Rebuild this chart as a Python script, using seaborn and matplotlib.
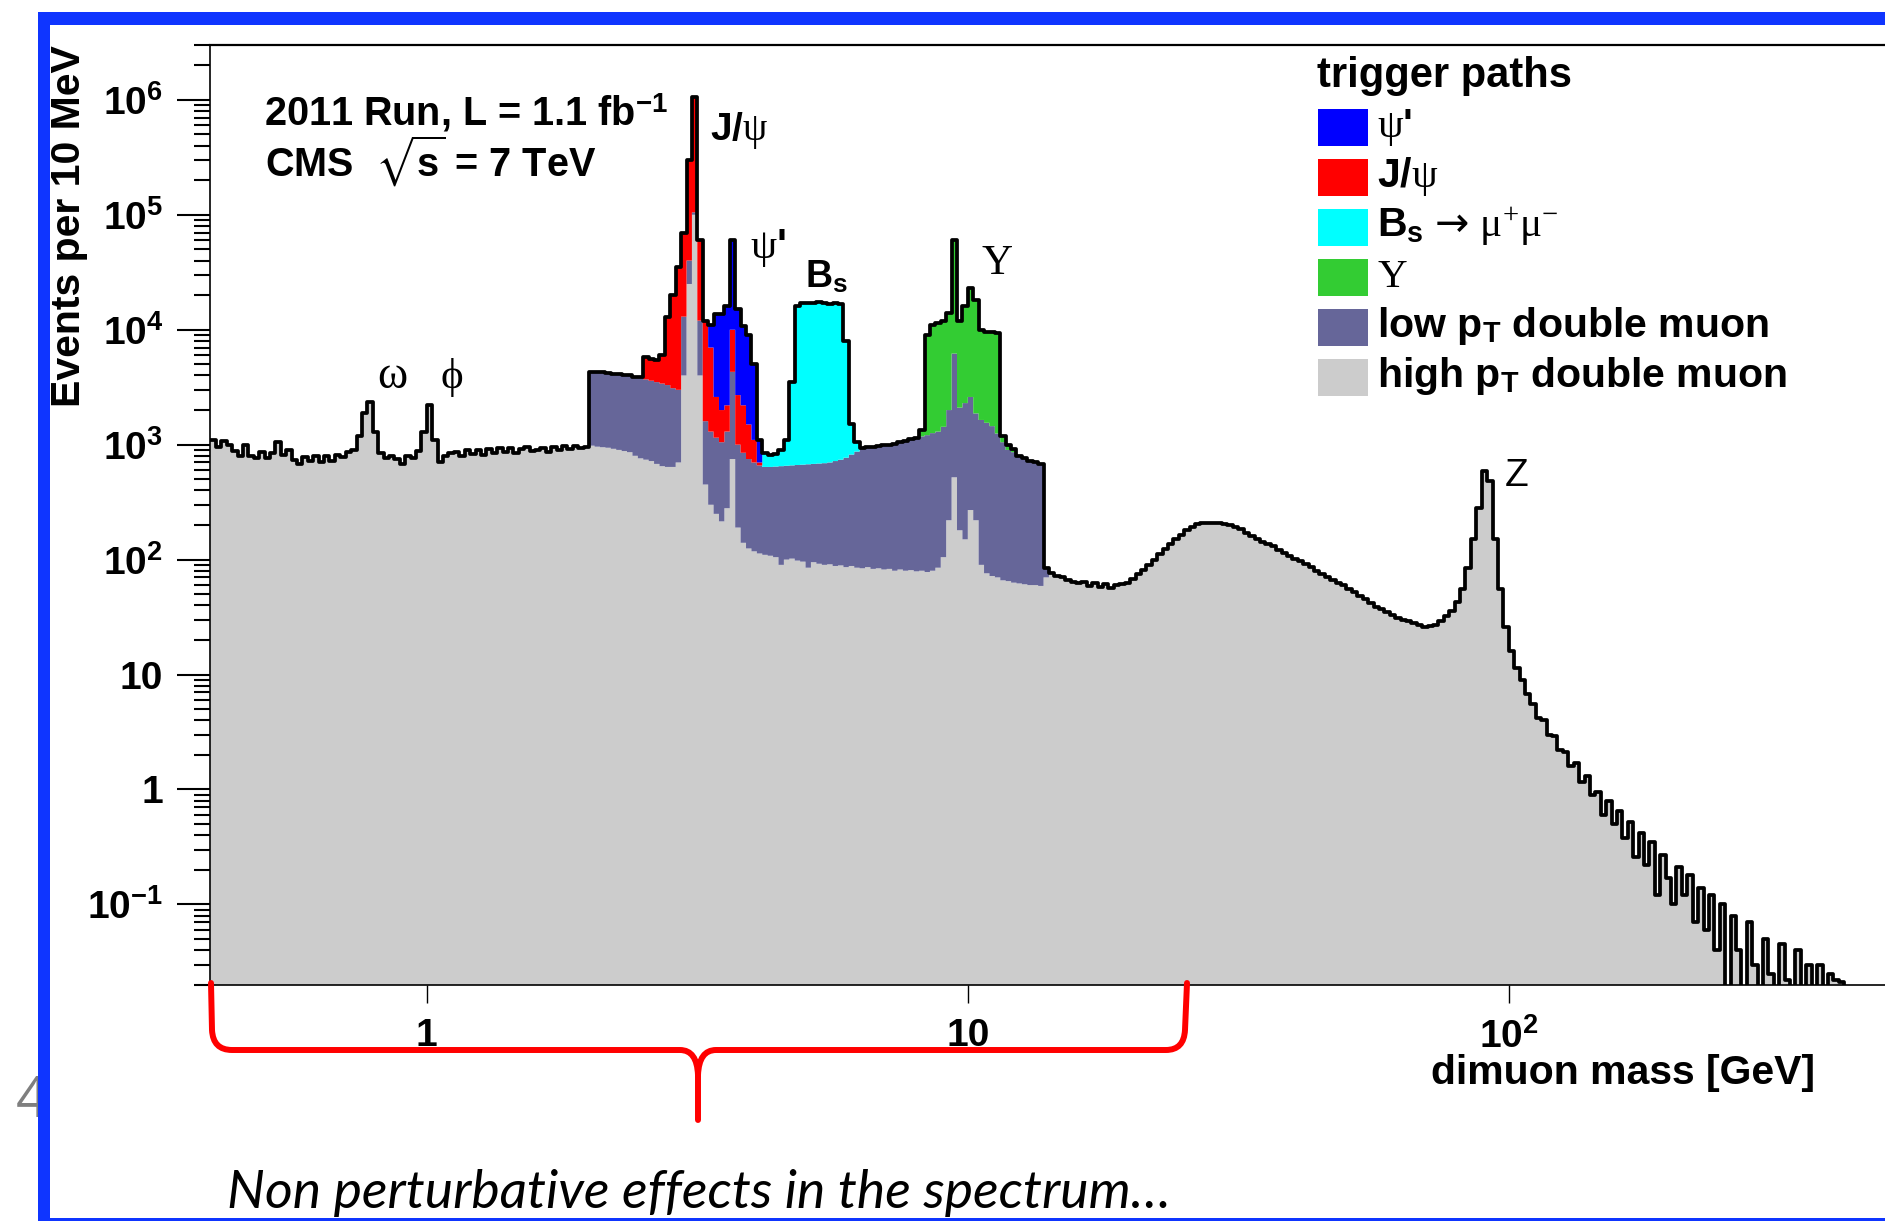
import numpy as np
import pandas as pd
import matplotlib
matplotlib.use("Agg")
import matplotlib.pyplot as plt
from matplotlib.patches import Rectangle, PathPatch
from matplotlib.path import Path
from matplotlib.ticker import LogLocator, NullLocator, NullFormatter
import seaborn as sns

# ------------------------------------------------------------------
# Binning: 100 bins per decade of dimuon mass, 10^-0.4 ... 10^2.7 GeV
# ------------------------------------------------------------------
LOG_EDGES = np.linspace(-0.40, 2.70, 311)

# Events per bin, high-pT double-muon path (whole spectrum), rows of 10 bins
high_pt = [
    1100, 950, 1080, 990, 880, 790, 1000, 800, 770, 860,        # 0.40-0.50 GeV
    760, 850, 1050, 820, 900, 740, 680, 780, 720, 800,          # 0.50-0.63
    700, 790, 720, 810, 780, 870, 900, 1200, 1900, 2350,        # 0.63-0.79  (omega)
    1300, 850, 770, 790, 750, 680, 800, 760, 880, 1300,         # 0.79-1.00
    2200, 1100, 700, 800, 850, 870, 800, 890, 830, 900,         # 1.00-1.26  (phi)
    820, 910, 850, 930, 860, 940, 850, 910, 960, 880,           # 1.26-1.58
    900, 940, 870, 950, 900, 970, 910, 980, 930, 960,           # 1.58-2.00
    980, 960, 950, 940, 920, 900, 880, 860, 800, 760,           # 2.00-2.51
    740, 720, 680, 650, 640, 640, 700, 4000, 25000, 100000,     # 2.51-3.16  (J/psi)
    4000, 450, 300, 250, 215, 280, 750, 190, 140, 125,          # 3.16-3.98  (psi')
    118, 113, 110, 108, 105, 90, 100, 102, 98, 96,              # 3.98-5.01
    85, 95, 92, 90, 91, 88, 89, 86, 88, 85,                     # 5.01-6.31
    84, 86, 83, 84, 82, 83, 80, 82, 80, 81,                     # 6.31-7.94
    79, 80, 78, 80, 85, 105, 220, 520, 180, 150,                # 7.94-10.0  (Upsilon)
    270, 220, 90, 76, 72, 70, 66, 65, 63, 62,                   # 10.0-12.6
    61, 60, 60, 59, 70, 76, 72, 70, 66, 64,                     # 12.6-15.8
    62, 64, 59, 62, 58, 61, 57, 60, 61, 63,                     # 15.8-20.0
    68, 75, 82, 90, 100, 112, 124, 138, 150, 165,               # 20-25
    180, 193, 202, 208, 210, 210, 208, 205, 200, 192,           # 25-32
    183, 172, 160, 150, 143, 136, 130, 122, 115, 108,           # 32-40
    102, 97, 92, 86, 80, 75, 71, 66, 63, 60,                    # 40-50
    56, 52, 48, 45, 42, 39, 37, 35, 33, 31,                     # 50-63
    30, 29, 28, 27, 26, 26.5, 27, 29, 32, 36,                   # 63-79
    43, 55, 85, 150, 280, 590, 480, 150, 55, 26,                # 79-100  (Z)
    16, 11.5, 9, 6.8, 5.5, 4.2, 4.0, 3.0, 2.9, 2.2,             # 100-126
    2.1, 1.6, 1.7, 1.15, 1.3, 0.9, 0.95, 0.6, 0.8, 0.5,         # 126-158
    0.65, 0.38, 0.52, 0.26, 0.42, 0.22, 0.35, 0.12, 0.27, 0.17, # 158-200
    0.1, 0.21, 0.12, 0.18, 0.07, 0.14, 0.06, 0.12, 0.04, 0.1,   # 200-251
    0, 0.08, 0.04, 0, 0.07, 0.03, 0, 0.05, 0.025, 0,            # 251-316
    0.045, 0.022, 0, 0.04, 0, 0.03, 0, 0.03, 0, 0.025,          # 316-398
    0.022, 0.021, 0, 0, 0, 0, 0, 0, 0, 0,                       # 398-501
]

# Low-pT double-muon path, starting at bin 70 (2.0 GeV)
low_pt_first_bin = 70
low_pt = [
    3320, 3290, 3350, 3260, 3230, 3250, 3170, 3140, 3100, 3090,
    2960, 2880, 2820, 2750, 2660, 2460, 2300, 9000, 15000, 5000,
    8000, 1150, 1000, 900, 835, 1020, 3550, 810, 710, 625,
    582, 547, 530, 532, 540, 560, 555, 558, 567, 574,
    590, 585, 593, 600, 609, 632, 651, 684, 732, 785,
    846, 864, 877, 886, 908, 917, 940, 968, 1000, 1029,
    1071, 1100, 1132, 1180, 1215, 1325, 1780, 5680, 1920, 2150,
    2330, 1650, 1550, 1474, 1378, 1180, 984, 835, 797, 738,
    699, 660, 640, 621, 15,
]

# J/psi path, starting at bin 80 (2.5 GeV)
jpsi_first_bin = 80
jpsi = [
    2100, 2000, 2000, 2600, 9700, 16900, 32000, 57000, 260000, 945000,
    48000, 10400, 5700, 1450, 950, 900, 5700, 1700, 1350, 750,
    400, 40,
]

# psi' path, starting at bin 92 (3.3 GeV)
psi2s_first_bin = 92
psi2s = [4000, 11100, 11700, 13800, 50000, 12300, 8500, 7500, 3900, 400]

# Bs -> mu mu path, starting at bin 102 (4.2 GeV)
bs_first_bin = 102
bs_mumu = [210, 180, 185, 250, 445, 2840, 15300, 16300, 16500, 16300,
           16600, 16300, 16200, 16400, 15900, 7230, 680, 180]

# Upsilon path, starting at bin 131 (8.1 GeV)
upsilon_first_bin = 131
upsilon = [170, 7790, 9740, 10200, 10570, 12000, 53800, 9900, 13700, 20400,
           16130, 8360, 8050, 8150, 8150, 150, 100, 60]

# Stack order, top to bottom, with legend text and colours
paths = ["psi2s", "jpsi", "bs", "upsilon", "low_pt", "high_pt"]
path_colors = ["#0000ff", "#ff0000", "#00ffff", "#33cc33", "#666699", "#cccccc"]
path_labels = [
    r"$\mathrm{\psi}$'",
    r"J/$\mathrm{\psi}$",
    r"B$_{\mathbf{s}}$$\,\mathcal{\rightarrow}\,\mathrm{\mu^{+}\mu^{-}}$",
    r"$\mathrm{\Upsilon}$",
    r"low p$_{\mathbf{T}}$ double muon",
    r"high p$_{\mathbf{T}}$ double muon",
]

# ------------------------------------------------------------------
nbins = len(LOG_EDGES) - 1
assert len(high_pt) == nbins
centers = 10 ** (0.5 * (LOG_EDGES[:-1] + LOG_EDGES[1:]))
bin_list = LOG_EDGES.tolist()


def spread(first_bin, counts):
    out = np.zeros(nbins)
    out[first_bin:first_bin + len(counts)] = counts
    return out


components = {
    "psi2s": spread(psi2s_first_bin, psi2s),
    "jpsi": spread(jpsi_first_bin, jpsi),
    "bs": spread(bs_first_bin, bs_mumu),
    "upsilon": spread(upsilon_first_bin, upsilon),
    "low_pt": spread(low_pt_first_bin, low_pt),
    "high_pt": np.asarray(high_pt, dtype=float),
}
df = pd.concat(
    [pd.DataFrame({"mass": centers, "events": v, "path": k}) for k, v in components.items()],
    ignore_index=True,
)
total = np.sum(list(components.values()), axis=0)

# ------------------------------------------------------------------
sns.set_style("ticks", rc={"axes.edgecolor": "black", "xtick.color": "black",
                           "ytick.color": "black", "text.color": "black",
                           "axes.labelcolor": "black"})
plt.rcParams["font.family"] = ["Liberation Sans", "DejaVu Sans"]
plt.rcParams["mathtext.fontset"] = "custom"
plt.rcParams["mathtext.rm"] = "Liberation Serif"
plt.rcParams["mathtext.it"] = "Liberation Serif:italic"
plt.rcParams["mathtext.bf"] = "Liberation Sans:bold"
plt.rcParams["mathtext.sf"] = "Liberation Sans"
plt.rcParams["mathtext.cal"] = "DejaVu Sans"
plt.rcParams["mathtext.fallback"] = "stix"

W, H = 1885, 1221
AX_L, AX_T, AX_B = 210.4, 45.0, 985.0


def fx(x):
    return x / W


def fy(y):
    return 1 - y / H


def to_axes(x, y):
    return (x - AX_L) / (W - AX_L), (AX_B - y) / (AX_B - AX_T)


fig = plt.figure(figsize=(W / 100, H / 100), dpi=100)
fig.patch.set_facecolor("white")
ax = fig.add_axes([fx(AX_L), fy(AX_B), (W - AX_L) / W, (AX_B - AX_T) / H])

sns.histplot(data=df, x="mass", weights="events", hue="path", hue_order=paths,
             palette=dict(zip(paths, path_colors)), multiple="stack",
             element="step", fill=True, bins=bin_list, log_scale=True,
             alpha=1, linewidth=0, legend=False, ax=ax)
sns.histplot(x=centers, weights=total, bins=bin_list, log_scale=True,
             element="step", fill=False, color="black", linewidth=2.7,
             zorder=5, ax=ax)

ax.set_yscale("log")
ax.set_xlim(0.398, 496)
ax.set_ylim(0.0199, 3.0e6)

ax.set_yticks([0.1, 1, 10, 100, 1e3, 1e4, 1e5, 1e6],
              [r"$\mathbf{10^{-1}}$", "1", "10", r"$\mathbf{10^{2}}$",
               r"$\mathbf{10^{3}}$", r"$\mathbf{10^{4}}$", r"$\mathbf{10^{5}}$",
               r"$\mathbf{10^{6}}$"], fontsize=28, fontweight="bold")
ax.yaxis.set_minor_locator(LogLocator(base=10, subs=np.arange(2, 10), numticks=60))
ax.yaxis.set_minor_formatter(NullFormatter())
ax.set_xticks([1, 10, 100], ["1", "10", r"$\mathbf{10^{2}}$"],
              fontsize=28, fontweight="bold")
ax.xaxis.set_minor_locator(NullLocator())

ax.tick_params(axis="y", which="major", direction="out", length=24, width=1.5,
               pad=10, left=True, right=False)
ax.tick_params(axis="y", which="minor", direction="out", length=11.5, width=1.5,
               left=True, right=False)
ax.tick_params(axis="x", which="major", direction="out", length=13, width=1,
               pad=11, bottom=True, top=False)

ax.spines["right"].set_visible(False)
ax.spines["top"].set_linewidth(1.6)
ax.spines["left"].set_linewidth(1.2)
ax.spines["bottom"].set_linewidth(1.2)
ax.grid(False)

ax.set_xlabel("dimuon mass [GeV]", fontsize=29.5, fontweight="bold")
ax.xaxis.set_label_coords(*to_axes(1815, 1073))
ax.xaxis.label.set_ha("right")
ax.xaxis.label.set_va("center")
ax.set_ylabel("Events per 10 MeV", fontsize=29.5, fontweight="bold")
ax.yaxis.set_label_coords(*to_axes(69, 45))
ax.yaxis.label.set_ha("right")
ax.yaxis.label.set_va("center")

# Run information
fig.text(fx(264), fy(125), r"2011 Run, L = 1.1 fb$^{\mathbf{-1}}$",
         fontsize=28.5, fontweight="bold", va="baseline")
fig.text(fx(265), fy(177), r"CMS  $\sqrt{\mathbf{s}}$ = 7 TeV",
         fontsize=28.5, fontweight="bold", va="baseline")

# Resonance labels
peak_labels = [
    (r"J/$\mathrm{\psi}$", 710, 140, "bold", 28),
    (r"$\mathrm{\psi}$'", 750, 258, "bold", 30),
    (r"B$_{\mathbf{s}}$", 805, 288, "bold", 27),
    (r"$\mathrm{\Upsilon}$", 981, 274, "bold", 31),
    (r"$\mathrm{\omega}$", 377, 388, "bold", 33),
    (r"$\mathrm{\phi}$", 440, 388, "bold", 31),
    ("Z", 1505, 486, "normal", 28),
]
for txt, x, y, wt, size in peak_labels:
    fig.text(fx(x), fy(y), txt, fontsize=size, fontweight=wt, va="baseline")

# Legend
fig.text(fx(1317), fy(87), "trigger paths", fontsize=30, fontweight="bold",
         va="baseline")
for i, (color, label) in enumerate(zip(path_colors, path_labels)):
    top = 109 + 50 * i
    fig.add_artist(Rectangle((fx(1318), fy(top + 37)), 50 / W, 37 / H,
                             transform=fig.transFigure, facecolor=color,
                             edgecolor="none", zorder=3))
    fig.text(fx(1377), fy(top + 28), label, fontsize=29.5, fontweight="bold",
             va="baseline", zorder=3)

# Red brace under the low-mass part of the spectrum
M, L, C = Path.MOVETO, Path.LINETO, Path.CURVE3
brace_pts = [(211, 983), (212, 1030), (213, 1050), (232, 1050), (680, 1050),
             (697, 1050), (698, 1075), (698, 1120),
             (698, 1075), (699, 1050), (716, 1050), (1166, 1050),
             (1184, 1050), (1185, 1030), (1187, 983)]
brace_codes = [M, L, C, C, L, C, C, L, M, C, C, L, C, C, L]
brace = Path([(fx(x), fy(y)) for x, y in brace_pts], brace_codes)
fig.add_artist(PathPatch(brace, transform=fig.transFigure, fill=False,
                         edgecolor="#ff0000", linewidth=4.3, capstyle="round",
                         joinstyle="round", zorder=4))

fig.text(fx(699), fy(1193), "Non perturbative effects in the spectrum\u2026",
         fontsize=38.5, style="italic", family=["Lato", "DejaVu Sans"],
         ha="center", va="center")

# Slide frame and page number
fig.text(fx(16), fy(1117), "4", fontsize=40, color="#7f7f7f",
         family=["Open Sans", "DejaVu Sans"], va="baseline", zorder=1)
FRAME = "#0f35ff"
fig.add_artist(Rectangle((fx(38), 0), 12 / W, fy(12), transform=fig.transFigure,
                         facecolor=FRAME, edgecolor="none", zorder=6))
fig.add_artist(Rectangle((fx(38), fy(25)), (W - 38) / W, 13 / H,
                         transform=fig.transFigure, facecolor=FRAME,
                         edgecolor="none", zorder=6))
fig.add_artist(Rectangle((fx(38), 0), (W - 38) / W, 3 / H,
                         transform=fig.transFigure, facecolor=FRAME,
                         edgecolor="none", zorder=6))

fig.savefig("out.png", dpi=100)
